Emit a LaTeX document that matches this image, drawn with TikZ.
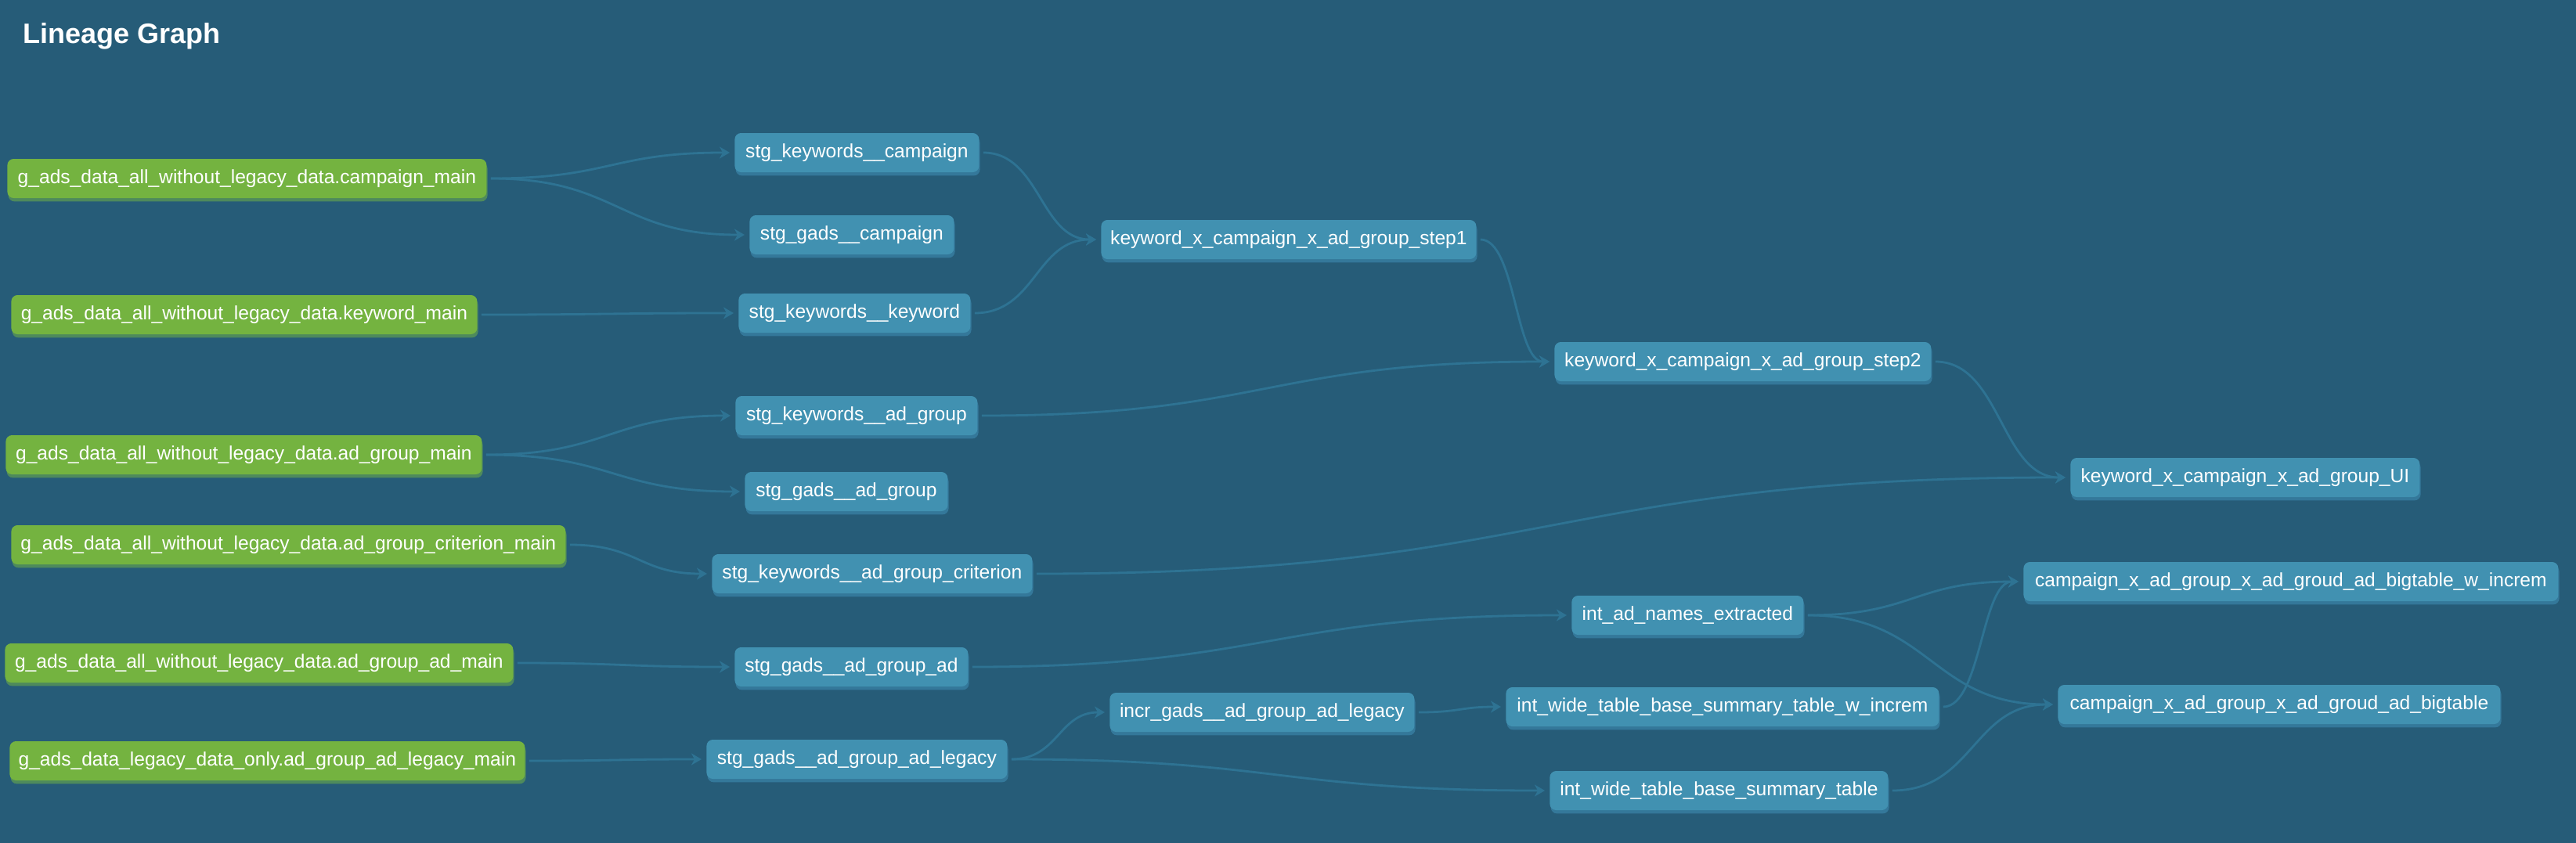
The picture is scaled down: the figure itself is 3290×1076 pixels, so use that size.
\documentclass[tikz,border=0pt]{standalone}
\usepackage{fontspec}
\setmainfont{Liberation Sans}
\usetikzlibrary{arrows.meta,shadows,calc}
\definecolor{bg}{HTML}{265C78}
\definecolor{nodeblue}{HTML}{4191B1}
\definecolor{nodeshadow}{HTML}{34789A}
\definecolor{srcgreen}{HTML}{74B340}
\definecolor{srcshadow}{HTML}{4E8A5C}
\definecolor{edgecol}{HTML}{2E7393}
\newcommand\mk[6]{\node[#1, minimum width={(#4-#3)*0.5pt}] (#2) at (#3,#5) {#6};}
\newcommand\lnk[2]{\coordinate (m) at ($(#1.east)!0.5!(#2.west)$);
  \draw[edge] (#1.east) .. controls (m |- #1.east) and (m |- #2.west) .. (#2.west);}
\begin{document}
\begin{tikzpicture}[x=0.5pt,y=-0.5pt,
  box/.style={rounded corners=4pt, inner sep=0pt, minimum height=25pt, text=white,
    font=\fontsize{12.3}{14}\selectfont, anchor=west},
  model/.style={box, fill=nodeblue, general shadow={fill=nodeshadow, shadow xshift=0.6pt, shadow yshift=-2.2pt}},
  source/.style={box, fill=srcgreen, general shadow={fill=srcshadow, shadow xshift=0.6pt, shadow yshift=-2.2pt}},
  edge/.style={draw=edgecol, line width=1.4pt, -{Stealth[length=6.5pt,width=7.5pt,inset=2pt]},
    shorten <=2.5pt, shorten >=3pt},
  title/.style={text=white, font=\fontsize{18}{20}\selectfont\bfseries, anchor=base west, inner sep=0pt}]
\useasboundingbox (0,0) rectangle (3290,1076);
\fill[bg] (-20,-20) rectangle (3310,1096);
\node[title] (ttl) at (29,55) {Lineage Graph};
% sources
\mk{source}{s1}{9}{621}{228}{g\_ads\_data\_all\_without\_legacy\_data.campaign\_main}
\mk{source}{s2}{14}{609}{402}{g\_ads\_data\_all\_without\_legacy\_data.keyword\_main}
\mk{source}{s3}{7}{615}{581}{g\_ads\_data\_all\_without\_legacy\_data.ad\_group\_main}
\mk{source}{s4}{14}{722}{696}{g\_ads\_data\_all\_without\_legacy\_data.ad\_group\_criterion\_main}
\mk{source}{s5}{6}{655}{847}{g\_ads\_data\_all\_without\_legacy\_data.ad\_group\_ad\_main}
\mk{source}{s6}{12}{670}{972}{g\_ads\_data\_legacy\_data\_only.ad\_group\_ad\_legacy\_main}
% staging
\mk{model}{t1}{938}{1250}{195}{stg\_keywords\_\_campaign}
\mk{model}{t2}{957}{1218}{300}{stg\_gads\_\_campaign}
\mk{model}{t3}{943}{1239}{400}{stg\_keywords\_\_keyword}
\mk{model}{t4}{939}{1248}{531}{stg\_keywords\_\_ad\_group}
\mk{model}{t5}{951}{1210}{628}{stg\_gads\_\_ad\_group}
\mk{model}{t6}{909}{1318}{733}{stg\_keywords\_\_ad\_group\_criterion}
\mk{model}{t7}{938}{1236}{852}{stg\_gads\_\_ad\_group\_ad}
\mk{model}{t8}{902}{1286}{970}{stg\_gads\_\_ad\_group\_ad\_legacy}
% downstream
\mk{model}{k1}{1406}{1885}{306}{keyword\_x\_campaign\_x\_ad\_group\_step1}
\mk{model}{k2}{1985}{2466}{462}{keyword\_x\_campaign\_x\_ad\_group\_step2}
\mk{model}{ui}{2644}{3090}{610}{keyword\_x\_campaign\_x\_ad\_group\_UI}
\mk{model}{inc}{1417}{1806}{910}{incr\_gads\_\_ad\_group\_ad\_legacy}
\mk{model}{nam}{2007}{2303}{786}{int\_ad\_names\_extracted}
\mk{model}{wi}{1923}{2476}{903}{int\_wide\_table\_base\_summary\_table\_w\_increm}
\mk{model}{wb}{1979}{2411}{1010}{int\_wide\_table\_base\_summary\_table}
\mk{model}{bi}{2584}{3267}{743}{campaign\_x\_ad\_group\_x\_ad\_groud\_ad\_bigtable\_w\_increm}
\mk{model}{bb}{2628}{3193}{900}{campaign\_x\_ad\_group\_x\_ad\_groud\_ad\_bigtable}
% edges
\lnk{s1}{t1}
\lnk{s1}{t2}
\lnk{s2}{t3}
\lnk{s3}{t4}
\lnk{s3}{t5}
\lnk{s4}{t6}
\lnk{s5}{t7}
\lnk{s6}{t8}
\lnk{t1}{k1}
\lnk{t3}{k1}
\lnk{k1}{k2}
\lnk{t4}{k2}
\lnk{k2}{ui}
\lnk{t6}{ui}
\lnk{t7}{nam}
\lnk{t8}{inc}
\lnk{t8}{wb}
\lnk{inc}{wi}
\lnk{nam}{bi}
\lnk{nam}{bb}
\lnk{wi}{bi}
\lnk{wb}{bb}
\end{tikzpicture}
\end{document}
